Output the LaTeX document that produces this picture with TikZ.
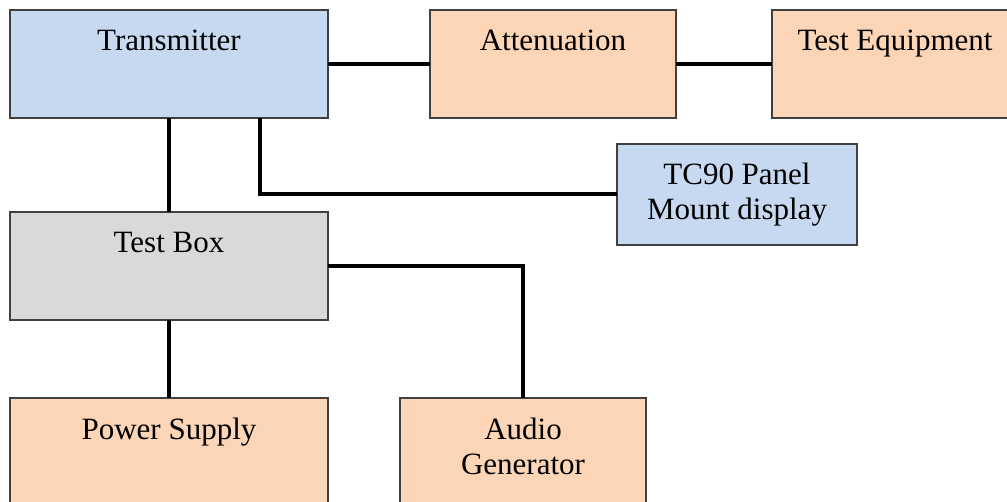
\documentclass[tikz,border=0pt]{standalone}
\usepackage{fontspec}
\setmainfont{Liberation Serif}
\usetikzlibrary{positioning}

\definecolor{txblue}{RGB}{198,217,241}
\definecolor{peach}{RGB}{251,213,181}
\definecolor{boxgray}{RGB}{217,217,217}

\newcommand{\blocktext}[3]{\parbox[t][#2][t]{#1}{\centering\rule{0pt}{20.5pt}#3}}

\begin{document}
\begin{tikzpicture} [x=0.5pt,y=-0.5pt,node distance=40pt,
  blok/.style={draw=black!75,line width=0.6pt,inner sep=0pt,outer sep=0pt,
    font=\fontsize{15.5}{17.5}\selectfont},
  wire/.style={line width=2pt,black}]

  \clip (0,0) rectangle (1007,502);

  \node[blok,fill=txblue,anchor=north west] (tx) at (10,10) {\blocktext{159pt}{54pt}{Transmitter}};
  \node[blok,fill=peach] (att) [right=51pt of tx] {\blocktext{123pt}{54pt}{Attenuation}};
  \node[blok,fill=peach] (te) [right=48pt of att] {\blocktext{123pt}{54pt}{Test Equipment}};
  \node[blok,fill=txblue] (tc) at (737,194.5) {\blocktext{120pt}{50.5pt}{TC90 Panel\\Mount display}};
  \node[blok,fill=boxgray] (tb) [below=47pt of tx] {\blocktext{159pt}{54pt}{Test Box}};
  \node[blok,fill=peach] (ps) [below=39pt of tb] {\blocktext{159pt}{54pt}{Power Supply}};
  \node[blok,fill=peach] (ag) [right=36pt of ps] {\blocktext{123pt}{54pt}{Audio\\Generator}};

  \draw[wire] (tx) -- (att);
  \draw[wire] (att) -- (te);
  \draw[wire] (tx) -- (tb);
  \draw[wire] ([xshift=45.5pt]tx.south) |- (tc.west);
  \draw[wire] (tb.east) -| (ag.north);
  \draw[wire] (tb) -- (ps);

\end{tikzpicture}
\end{document}
